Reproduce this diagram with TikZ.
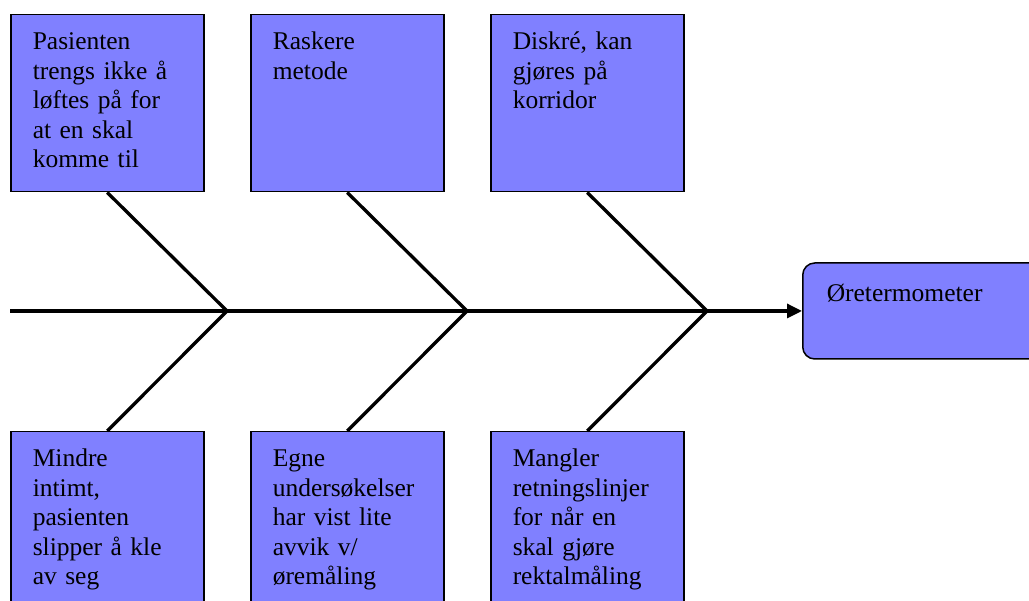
\documentclass[tikz,border=0pt]{standalone}
\usepackage{fontspec}
\setmainfont{Liberation Serif}
\newfontfamily\boxfont{Liberation Serif}
\usepackage{tikz}
\usetikzlibrary{arrows.meta,positioning}
\definecolor{boxblue}{RGB}{128,128,255}

\begin{document}
\begin{tikzpicture}[x=1pt, y=1pt,
    every node/.style={font=\boxfont\fontsize{25.5}{29.5}\selectfont},
    cause/.style={draw, line width=1.5pt, fill=boxblue, anchor=north west, align=left,
      text width=149pt, inner xsep=22pt, inner ysep=0pt, text height=35pt, text depth=142pt},
    effect/.style={draw, line width=1.5pt, fill=boxblue, rounded corners=12pt, anchor=west,
      align=left, text width=197pt, inner xsep=24pt, inner ysep=0pt, text height=39pt, text depth=57pt},
    bone/.style={line width=3.3pt}]
  \useasboundingbox (0,0) rectangle (1029,601);

  % causes above the spine
  \node[cause] (up1) at (10,587) {Pasienten\\trengs ikke å\\løftes på for\\at en skal\\komme til};
  \node[cause] (up2) at (250,587) {Raskere\\metode};
  \node[cause] (up3) at (490,587) {Diskré, kan\\gjøres på\\korridor};

  % causes below the spine
  \node[cause] (down1) at (10,170) {Mindre\\intimt,\\pasienten\\slipper å kle\\av seg};
  \node[cause] (down2) at (250,170) {Egne\\undersøkelser\\har vist lite\\avvik v/\\øremåling};
  \node[cause] (down3) at (490,170) {Mangler\\retningslinjer\\for når en\\skal gjøre\\rektalmåling};

  % effect
  \node[effect] (oret) at (802,290) {Øretermometer};

  % spine and bones
  \coordinate (tail) at (10,290);
  \coordinate (j1) at (227,290);
  \coordinate (j2) at (467,290);
  \coordinate (j3) at (707,290);
  \draw[bone, -{Triangle[length=15pt,width=14pt]}] (tail) -- (oret.west);
  \draw[bone] (up1.south) -- (j1) -- (down1.north);
  \draw[bone] (up2.south) -- (j2) -- (down2.north);
  \draw[bone] (up3.south) -- (j3) -- (down3.north);
\end{tikzpicture}
\end{document}
